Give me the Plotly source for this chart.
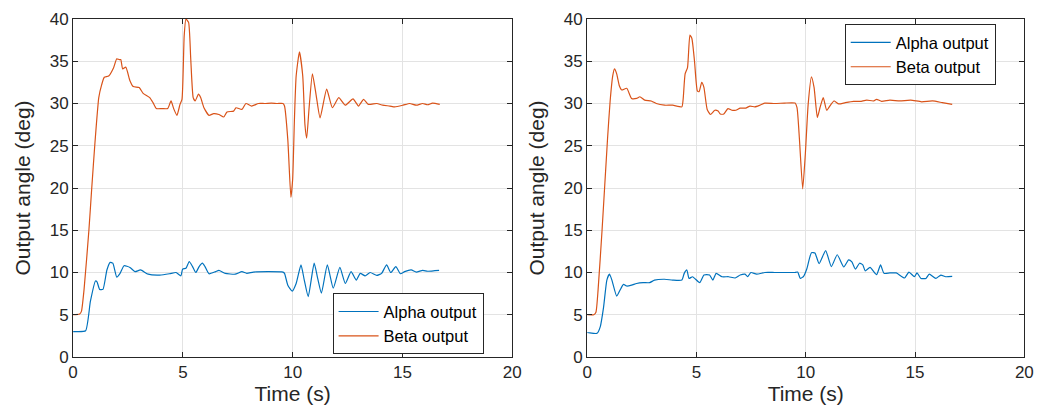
import plotly.graph_objects as go

# ---------------- data ----------------
# Left panel
t_left_alpha = [0.0, 0.19, 0.57, 0.79, 1.02, 1.09, 1.21, 1.36, 1.54, 1.69, 1.81, 1.99, 2.14, 2.32, 2.59,
                2.82, 3.07, 3.42, 3.94, 4.39, 4.69, 4.91, 4.99, 5.14, 5.29, 5.44, 5.59, 5.74, 5.89, 6.01,
                6.19, 6.49, 6.64, 6.93, 7.38, 7.69, 7.91, 8.21, 8.88, 9.56, 9.63, 9.78, 9.98, 10.16, 10.38,
                10.53, 10.71, 10.98, 11.14, 11.31, 11.58, 11.85, 12.15, 12.4, 12.66, 12.9, 13.08, 13.3,
                13.53, 13.83, 14.05, 14.28, 14.47, 14.7, 14.91, 15.1, 15.4, 15.63, 15.92, 16.15, 16.67]
alpha_left = [3.0, 3.0, 3.1, 6.6, 9.0, 8.9, 8.0, 8.0, 10.3, 11.2, 11.1, 9.45, 9.9, 10.8, 10.6,
              10.1, 10.3, 9.8, 9.7, 9.85, 10.0, 9.6, 10.4, 10.5, 11.3, 10.7, 10.0, 10.7, 11.1, 10.7,
              9.85, 10.1, 10.25, 9.9, 9.8, 10.1, 9.9, 10.05, 10.1, 10.05, 9.9, 8.5, 7.8, 8.7, 10.9,
              9.1, 7.15, 11.1, 9.3, 7.55, 10.9, 8.15, 10.6, 8.7, 10.1, 9.1, 9.9, 9.6,
              10.0, 9.65, 9.9, 10.9, 10.0, 10.7, 9.85, 10.1, 10.3, 10.05, 10.25, 10.15, 10.25]

t_left_beta = [0.0, 0.3, 0.38, 0.5, 0.72, 0.85, 1.0, 1.17, 1.3, 1.42, 1.62, 1.84, 1.99, 2.1, 2.17,
               2.26, 2.4, 2.59, 2.74, 3.01, 3.19, 3.49, 3.64, 3.79, 4.05, 4.31, 4.46, 4.58, 4.73,
               4.87, 4.96, 5.06, 5.14, 5.26, 5.36, 5.47, 5.56, 5.71, 5.81, 5.96, 6.19, 6.4, 6.64,
               6.86, 7.01, 7.31, 7.42, 7.69, 7.87, 8.13, 8.44, 8.73, 9.03, 9.3, 9.56, 9.63, 9.78,
               9.92, 10.0, 10.08, 10.16, 10.31, 10.46, 10.56, 10.64, 10.75, 10.9, 11.07, 11.25,
               11.55, 11.81, 12.1, 12.4, 12.75, 13.0, 13.23, 13.45, 13.83, 14.1, 14.43, 14.65,
               15.03, 15.33, 15.63, 15.92, 16.15, 16.37, 16.7]
beta_left = [5.0, 5.1, 5.4, 8.0, 15.0, 20.0, 25.5, 30.7, 32.2, 33.1, 33.25, 34.2, 35.3, 35.2, 35.2,
             34.1, 34.3, 32.7, 32.0, 31.9, 31.2, 30.7, 30.1, 29.4, 29.4, 29.4, 30.3, 29.4, 28.6,
             29.9, 30.5, 38.0, 40.0, 39.6, 35.2, 30.7, 30.3, 31.1, 30.7, 29.5, 28.6, 28.8, 28.7,
             28.4, 29.0, 29.1, 29.5, 29.3, 30.0, 29.7, 30.0, 30.0, 30.05, 30.0, 30.0, 29.7, 25.7,
             18.9, 21.0, 28.0, 33.25, 36.1, 33.25, 27.5, 25.9, 29.5, 33.5, 31.0, 28.3,
             31.7, 29.5, 30.7, 29.8, 30.55, 29.7, 30.5, 29.9, 30.0, 29.8, 29.7, 29.6,
             29.8, 30.0, 29.8, 30.0, 29.85, 30.05, 29.9]

# Right panel
t_right_alpha = [0.0, 0.08, 0.45, 0.6, 0.75, 0.9, 1.02, 1.13, 1.35, 1.5, 1.66, 1.81, 2.03, 2.26, 2.56,
                 2.86, 3.08, 3.54, 3.91, 4.33, 4.44, 4.56, 4.66, 4.82, 5.15, 5.34, 5.6, 5.75, 5.9,
                 6.17, 6.47, 6.77, 7.0, 7.22, 7.34, 7.49, 7.75, 8.13, 8.58, 9.18, 9.48, 9.63, 9.75,
                 9.9, 10.05, 10.26, 10.42, 10.61, 10.91, 11.17, 11.44, 11.74, 11.96, 12.11, 12.27,
                 12.46, 12.61, 12.72, 12.94, 13.24, 13.42, 13.58, 13.85, 14.14, 14.52, 14.72, 14.97,
                 15.09, 15.27, 15.5, 15.65, 15.95, 16.18, 16.4, 16.7]
alpha_right = [2.9, 2.87, 2.8, 3.6, 5.9, 9.1, 9.8, 9.1, 7.2, 7.9, 8.6, 8.4, 8.5, 8.7, 8.8,
               8.8, 9.1, 9.2, 9.1, 9.1, 9.9, 10.3, 9.3, 9.5, 8.8, 9.7, 9.7, 9.1, 9.9,
               9.5, 9.5, 9.35, 9.7, 9.8, 9.5, 10.0, 9.8, 10.0, 10.0, 10.0, 10.0, 10.05, 9.3,
               9.55, 10.45, 12.35, 12.3, 11.05, 12.6, 10.7, 12.1, 10.65, 11.5, 11.25, 10.4,
               11.1, 10.9, 10.2, 10.6, 9.75, 10.9, 9.9, 9.95, 9.95, 9.35, 10.05, 9.5,
               9.95, 9.3, 9.3, 9.8, 9.3, 9.7, 9.5, 9.55]

t_right_beta = [0.0, 0.3, 0.4, 0.5, 0.68, 0.93, 1.05, 1.17, 1.25, 1.35, 1.47, 1.58, 1.81, 2.03,
                2.26, 2.41, 2.63, 2.93, 3.16, 3.54, 3.91, 4.33, 4.39, 4.48, 4.59, 4.7, 4.79, 4.91,
                5.04, 5.12, 5.24, 5.34, 5.49, 5.64, 5.84, 5.99, 6.09, 6.25, 6.44, 6.62, 6.8, 7.0,
                7.25, 7.45, 7.67, 7.9, 8.13, 8.58, 9.03, 9.51, 9.6, 9.71, 9.86, 9.98, 10.11, 10.26,
                10.38, 10.53, 10.65, 10.8, 10.96, 11.14, 11.29, 11.51, 11.81, 12.19, 12.49, 12.79,
                13.09, 13.24, 13.47, 13.85, 14.3, 14.8, 15.3, 15.8, 16.25, 16.7]
beta_right = [5.0, 5.0, 5.3, 8.0, 15.0, 25.8, 30.3, 33.3, 34.1, 33.5, 32.1, 31.6, 31.8, 30.6,
              30.6, 30.8, 30.4, 30.3, 30.0, 29.8, 29.8, 29.6, 30.5, 33.5, 34.25, 38.1, 37.7, 35.0,
              31.5, 31.4, 32.5, 31.9, 29.3, 28.7, 29.2, 29.1, 28.75, 28.75, 29.4, 29.2, 29.2, 29.45,
              29.45, 29.7, 29.6, 29.8, 30.05, 30.0, 30.05, 30.05, 29.5, 25.8, 19.9, 24.0, 29.9, 33.15,
              31.9, 28.35, 29.5, 30.7, 29.2, 29.85, 30.3, 29.95, 30.1, 30.25, 30.25, 30.4,
              30.3, 30.5, 30.25, 30.4, 30.3, 30.4, 30.2, 30.3, 30.1, 29.9]

series_names = ["Alpha output", "Beta output"]
colors = ["#0072BD", "#D95319"]
x_ticks = [0, 5, 10, 15, 20]
y_ticks = [0, 5, 10, 15, 20, 25, 30, 35, 40]
x_title = "Time (s)"
y_title = "Output angle (deg)"

# ---------------- figure ----------------
W, H = 1058, 414
FONT = "Liberation Sans, Arial, Helvetica, sans-serif"
fig = go.Figure()

def line(color):
    return dict(color=color, width=1.2, shape="spline", smoothing=0.5)

fig.add_trace(go.Scatter(x=t_left_alpha, y=alpha_left, mode="lines", name=series_names[0],
                         line=line(colors[0]), xaxis="x", yaxis="y", legend="legend"))
fig.add_trace(go.Scatter(x=t_left_beta, y=beta_left, mode="lines", name=series_names[1],
                         line=line(colors[1]), xaxis="x", yaxis="y", legend="legend"))
fig.add_trace(go.Scatter(x=t_right_alpha, y=alpha_right, mode="lines", name=series_names[0],
                         line=line(colors[0]), xaxis="x2", yaxis="y2", legend="legend2"))
fig.add_trace(go.Scatter(x=t_right_beta, y=beta_right, mode="lines", name=series_names[1],
                         line=line(colors[1]), xaxis="x2", yaxis="y2", legend="legend2"))

axis_common = dict(showline=True, linecolor="#262626", linewidth=1, mirror="ticks",
                   ticks="inside", ticklen=5, tickcolor="#262626", tickwidth=1,
                   showgrid=True, gridcolor="#e3e3e3", gridwidth=1, zeroline=False,
                   tickfont=dict(family=FONT, size=17, color="#262626"))

xa = dict(axis_common, range=[0, 20], tickvals=x_ticks,
          title=dict(text=x_title, font=dict(family=FONT, size=21, color="#262626"), standoff=3))
ya = dict(axis_common, range=[0, 40], tickvals=y_ticks,
          title=dict(text=y_title, font=dict(family=FONT, size=21, color="#262626"), standoff=13))

legend_common = dict(bgcolor="white", bordercolor="#262626", borderwidth=1,
                     font=dict(family=FONT, size=16.5, color="black"),
                     tracegroupgap=0, itemwidth=40)

fig.update_layout(
    width=W, height=H,
    margin=dict(l=0, r=0, t=19, b=57),
    paper_bgcolor="white", plot_bgcolor="white",
    xaxis=dict(xa, domain=[69 / W, 514 / W], anchor="y"),
    yaxis=dict(ya, domain=[0, 1], anchor="x"),
    xaxis2=dict(xa, domain=[590 / W, 1033 / W], anchor="y2"),
    yaxis2=dict(ya, domain=[0, 1], anchor="x2"),
    legend=dict(legend_common, x=485 / W, xanchor="right", y=0.008, yanchor="bottom"),
    legend2=dict(legend_common, x=1004 / W, xanchor="right", y=0.985, yanchor="top"),
    showlegend=True,
)

fig.write_html("out.html")
